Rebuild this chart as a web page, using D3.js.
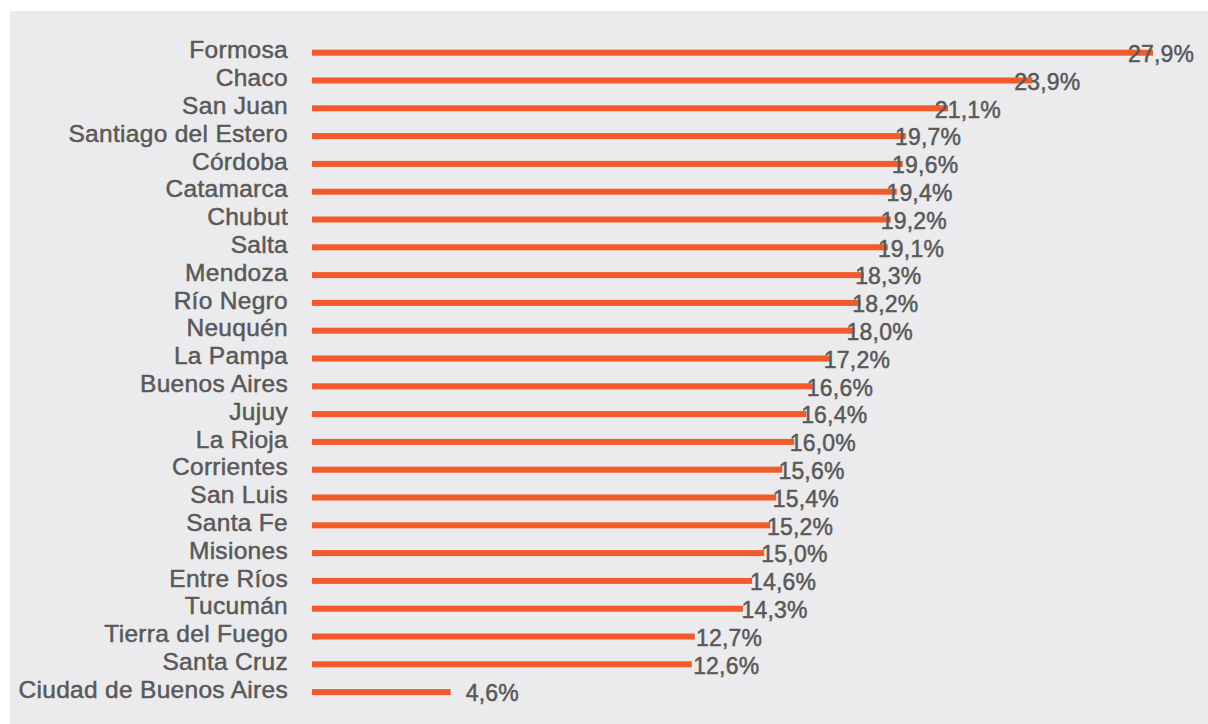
<!DOCTYPE html>
<html>
<head>
<meta charset="utf-8">
<script src="https://cdn.jsdelivr.net/npm/d3@7"></script>
<style>
  html, body { margin: 0; padding: 0; background: #ffffff; }
  svg { display: block; }
</style>
</head>
<body>
<svg id="chart" width="1208" height="724"></svg>
<script>
const categories = [
  "Formosa", "Chaco", "San Juan", "Santiago del Estero", "Córdoba", "Catamarca",
  "Chubut", "Salta", "Mendoza", "Río Negro", "Neuquén", "La Pampa",
  "Buenos Aires", "Jujuy", "La Rioja", "Corrientes", "San Luis", "Santa Fe",
  "Misiones", "Entre Ríos", "Tucumán", "Tierra del Fuego", "Santa Cruz",
  "Ciudad de Buenos Aires"
];
const values = [
  27.9, 23.9, 21.1, 19.7, 19.6, 19.4,
  19.2, 19.1, 18.3, 18.2, 18.0, 17.2,
  16.6, 16.4, 16.0, 15.6, 15.4, 15.2,
  15.0, 14.6, 14.3, 12.7, 12.6,
  4.6
];
const valueLabels = values.map(v => v.toFixed(1).replace(".", ",") + "%");

const data = categories.map((c, i) => ({ cat: c, val: values[i], label: valueLabels[i] }));

const svg = d3.select("#chart");
const W = 1208, H = 724;

// panel background
svg.append("rect")
  .attr("x", 10).attr("y", 11)
  .attr("width", W - 10).attr("height", H - 11)
  .attr("fill", "#EBEBED");

const x = d3.scaleLinear().domain([0, 27.9]).range([312, 1153]);
const labelX = d3.scaleLinear().domain([0, 27.9]).range([335, 1128]);
const y = d3.scaleBand().domain(categories).range([38.8, 706]).padding(0);

const barH = 6;
const textColor = "#595959";

svg.append("g").selectAll("rect")
  .data(data)
  .join("rect")
  .attr("x", x(0))
  .attr("y", d => y(d.cat) + y.bandwidth() / 2 - barH / 2)
  .attr("width", d => x(d.val) - x(0))
  .attr("height", barH)
  .attr("fill", "#F15A29");

// category labels
svg.append("g").selectAll("text")
  .data(data)
  .join("text")
  .attr("x", 288)
  .attr("y", d => y(d.cat) + y.bandwidth() / 2 + 5.6)
  .attr("text-anchor", "end")
  .attr("font-family", "'Liberation Sans', Arial, sans-serif")
  .attr("font-size", 24.5)
  .attr("letter-spacing", "0.3px")
  .attr("fill", textColor)
  .attr("stroke", textColor)
  .attr("stroke-width", 0.5)
  .text(d => d.cat);

// value labels
svg.append("g").selectAll("text")
  .data(data)
  .join("text")
  .attr("x", d => labelX(d.val))
  .attr("y", d => y(d.cat) + y.bandwidth() / 2 + 9.3)
  .attr("text-anchor", "start")
  .attr("font-family", "'Liberation Sans', Arial, sans-serif")
  .attr("font-size", 23)
  .attr("letter-spacing", "0.2px")
  .attr("fill", textColor)
  .attr("stroke", textColor)
  .attr("stroke-width", 0.5)
  .text(d => d.label);
</script>
</body>
</html>
